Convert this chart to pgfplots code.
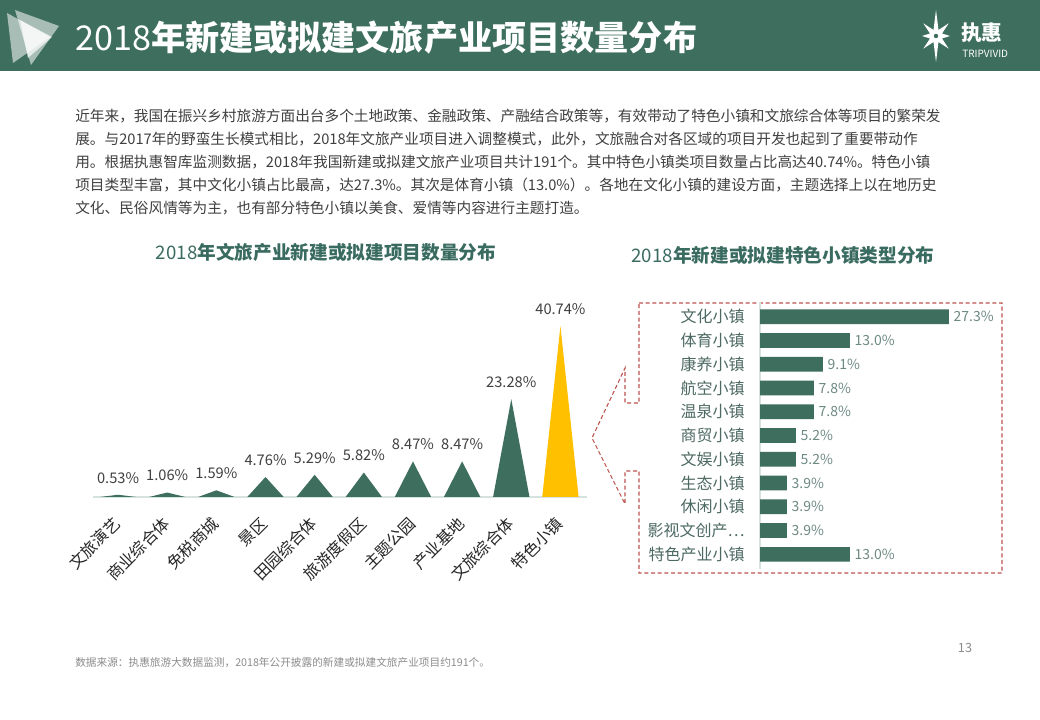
\documentclass[border=0pt]{standalone}
\usepackage{fontspec}
\setmainfont{Noto Sans CJK SC}
\usepackage{pgfplots}
\pgfplotsset{compat=1.18}
\definecolor{hdr}{HTML}{3D6E5E}
\definecolor{bar}{HTML}{3D6E5E}
\definecolor{yel}{HTML}{FFC000}
\definecolor{ttl}{HTML}{3A6B60}
\definecolor{txt}{HTML}{404040}
\definecolor{catc}{HTML}{4D6963}
\definecolor{valc}{HTML}{6F8A84}
\definecolor{axg}{HTML}{D6E2DF}
\definecolor{dsh}{RGB}{190,82,78}
\begin{document}
\begin{tikzpicture}
\begin{scope}[x=0.75pt,y=0.75pt]
\useasboundingbox (0,0) rectangle (1040,720);
\fill[white] (0,0) rectangle (1040,720);
% header
\fill[hdr] (0,720-71) rectangle (1040,720);
\fill[white,opacity=0.55] (7,720-13) -- (50,720-37) -- (13,720-63) -- cycle;
\fill[white,opacity=0.55] (15,720-10) -- (59,720-26) -- (31,720-65) -- cycle;
\fill[white,opacity=0.7] (20,720-20) -- (52,720-37) -- (28,720-58) -- cycle;
\node[anchor=base west, text=white, inner sep=0, font=\fontsize{25.6}{26}\selectfont] at (75,720-51) {2018\textbf{年新建或拟建文旅产业项目数量分布}};
% logo
\fill[white, shift={(936,720-36)}] (0:14) -- (22.5:6.5) -- (45:18) -- (67.5:6.5) -- (90:26) -- (112.5:6.5) -- (135:18) -- (157.5:6.5) -- (180:14) -- (202.5:6.5) -- (225:18) -- (247.5:6.5) -- (270:26) -- (292.5:6.5) -- (315:18) -- (337.5:6.5) -- cycle;
\fill[hdr, shift={(936,720-36)}] (0,0) circle (2.2);
\node[anchor=base west, text=white, inner sep=0, font=\fontsize{15.5}{16}\selectfont\bfseries] at (961,720-41) {执惠};
\node[anchor=base west, text=white, inner sep=0, font=\fontsize{7.5}{8}\selectfont] at (962,720-58) {TRIPVIVID};
% paragraph
\begin{scope}[every node/.style={anchor=base west, inner sep=0, text=txt, font=\fontsize{11}{13}\selectfont}]
\node at (75,720-122) {近年来，我国在振兴乡村旅游方面出台多个土地政策、金融政策、产融结合政策等，有效带动了特色小镇和文旅综合体等项目的繁荣发};
\node at (75,720-145) {展。与2017年的野蛮生长模式相比，2018年文旅产业项目进入调整模式，此外，文旅融合对各区域的项目开发也起到了重要带动作};
\node at (75,720-168) {用。根据执惠智库监测数据，2018年我国新建或拟建文旅产业项目共计191个。其中特色小镇类项目数量占比高达40.74\%。特色小镇};
\node at (75,720-191) {项目类型丰富，其中文化小镇占比最高，达27.3\%。其次是体育小镇（13.0\%）。各地在文化小镇的建设方面，主题选择上以在地历史};
\node at (75,720-214) {文化、民俗风情等为主，也有部分特色小镇以美食、爱情等内容进行主题打造。};
\end{scope}
% chart titles
\node[anchor=base, text=ttl, inner sep=0, font=\fontsize{14}{14}\selectfont] at (326,720-260) {2018\textbf{年文旅产业新建或拟建项目数量分布}};
\node[anchor=base, text=ttl, inner sep=0, font=\fontsize{14}{14}\selectfont] at (783,720-263) {2018\textbf{年新建或拟建特色小镇类型分布}};
% callout box
\draw[dsh, line width=0.8pt, dash pattern=on 3pt off 2pt] (639,720-303) -- (1002,720-303) -- (1002,720-573) -- (639,720-573) -- (639,720-471) -- (625,720-471) -- (625,720-504) -- (592,720-438) -- (625,720-368) -- (625,720-403) -- (639,720-403) -- cycle;
% footer
\node[anchor=base west, inner sep=0, text=black!45, font=\fontsize{8}{9}\selectfont] at (75,720-667) {数据来源：执惠旅游大数据监测，2018年公开披露的新建或拟建文旅产业项目约191个。};
\node[anchor=base, inner sep=0, text=black!45, font=\fontsize{9.5}{10}\selectfont] at (965,720-653) {13};
\end{scope}

% left chart
\begin{axis}[at={(70.1pt,167.25pt)}, anchor=south west, scale only axis,
  width=370.5pt, height=141.75pt, xmin=0.5, xmax=10.55, ymin=0, ymax=45,
  axis x line*=bottom, axis y line=none, x axis line style={draw=axg,-, line width=0.8pt},
  xtick={1,...,10}, major tick length=0,
  xticklabels={文旅演艺,商业综合体,免税商城,景区,田园综合体,旅游度假区,主题公园,产业基地,文旅综合体,特色小镇},
  xticklabel style={xshift=-4.5pt, yshift=-9pt, rotate=45, anchor=north east, font=\fontsize{12}{12}\selectfont, text=black!85},
  clip=false]
\addplot[fill=bar, draw=none] coordinates {(0.63,0) (1,0.53) (1.37,0)} \closedcycle;
\addplot[fill=bar, draw=none] coordinates {(1.63,0) (2,1.06) (2.37,0)} \closedcycle;
\addplot[fill=bar, draw=none] coordinates {(2.63,0) (3,1.59) (3.37,0)} \closedcycle;
\addplot[fill=bar, draw=none] coordinates {(3.63,0) (4,4.76) (4.37,0)} \closedcycle;
\addplot[fill=bar, draw=none] coordinates {(4.63,0) (5,5.29) (5.37,0)} \closedcycle;
\addplot[fill=bar, draw=none] coordinates {(5.63,0) (6,5.82) (6.37,0)} \closedcycle;
\addplot[fill=bar, draw=none] coordinates {(6.63,0) (7,8.47) (7.37,0)} \closedcycle;
\addplot[fill=bar, draw=none] coordinates {(7.63,0) (8,8.47) (8.37,0)} \closedcycle;
\addplot[fill=bar, draw=none] coordinates {(8.63,0) (9,23.28) (9.37,0)} \closedcycle;
\addplot[fill=yel, draw=none] coordinates {(9.63,0) (10,40.74) (10.37,0)} \closedcycle;
\addplot[draw=none, mark=none, point meta=explicit symbolic, nodes near coords,
  every node near coord/.append style={font=\fontsize{11}{11}\selectfont, text=txt, yshift=5pt}]
  coordinates {(1,0.53)[0.53\%] (2,1.06)[1.06\%] (3,1.59)[1.59\%] (4,4.76)[4.76\%] (5,5.29)[5.29\%]
  (6,5.82)[5.82\%] (7,8.47)[8.47\%] (8,8.47)[8.47\%] (9,23.28)[23.28\%] (10,40.74)[40.74\%]};
\end{axis}

% right chart
\begin{axis}[at={(570pt,113.55pt)}, anchor=south west, scale only axis,
  width=155.7pt, height=199.6pt, xbar, bar width=11pt, xmin=0, xmax=30,
  ymin=-0.6, ymax=10.6, y dir=reverse,
  axis x line=none, axis y line*=left, y axis line style={draw=axg,-, line width=0.8pt},
  ytick={0,...,10}, major tick length=0,
  yticklabels={文化小镇,体育小镇,康养小镇,航空小镇,温泉小镇,商贸小镇,文娱小镇,生态小镇,休闲小镇,影视文创产…,特色产业小镇},
  yticklabel style={font=\fontsize{12}{12}\selectfont, text=catc, xshift=-8pt},
  clip=false]
\addplot[fill=bar, draw=none, point meta=explicit symbolic, nodes near coords,
  nodes near coords align={horizontal},
  every node near coord/.append style={font=\fontsize{10.5}{10.5}\selectfont, text=valc, anchor=west}]
  coordinates {(27.3,0)[27.3\%] (13.0,1)[13.0\%] (9.1,2)[9.1\%] (7.8,3)[7.8\%] (7.8,4)[7.8\%] (5.2,5)[5.2\%] (5.2,6)[5.2\%] (3.9,7)[3.9\%] (3.9,8)[3.9\%] (3.9,9)[3.9\%] (13.0,10)[13.0\%]};
\end{axis}
\end{tikzpicture}
\end{document}
